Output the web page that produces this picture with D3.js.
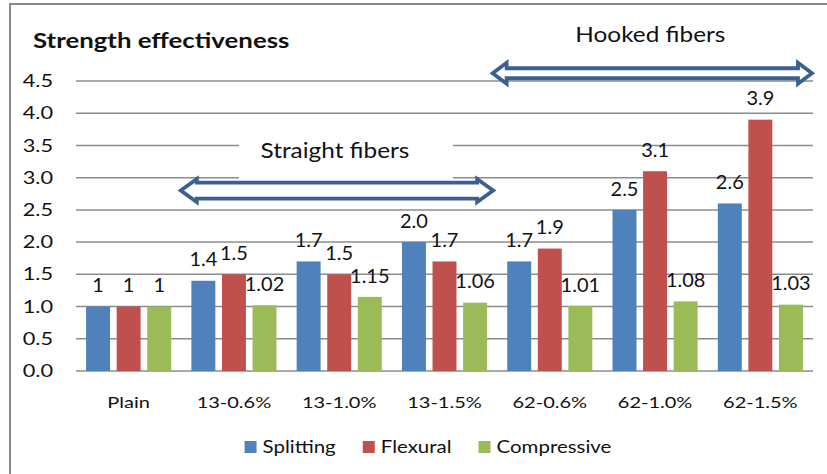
<!DOCTYPE html>
<html>
<head>
<meta charset="utf-8">
<script src="https://cdn.jsdelivr.net/npm/d3@7"></script>
<style>
  html, body { margin: 0; padding: 0; background: #fff; }
  svg { display: block; }
  text { font-family: Lato, "Open Sans", sans-serif; fill: #111; }
</style>
</head>
<body>
<svg id="chart" width="827" height="474"></svg>
<script>
// Mix designs (plain concrete, straight 13 mm and hooked 62 mm fibres at three dosages)
const categories = ["Plain", "13-0.6%", "13-1.0%", "13-1.5%", "62-0.6%", "62-1.0%", "62-1.5%"];
const seriesNames = ["Splitting", "Flexural", "Compressive"];
const seriesColors = ["#4f81bd", "#c0504d", "#9bbb59"];

// Strength ratio relative to the plain mix
const splitting   = [1, 1.4, 1.7, 2.0, 1.7, 2.5, 2.6];
const flexural    = [1, 1.5, 1.5, 1.7, 1.9, 3.1, 3.9];
const compressive = [1, 1.02, 1.15, 1.06, 1.01, 1.08, 1.03];
const labelDigits = [1, 1, 2];

const yTicks = [0, 0.5, 1.0, 1.5, 2.0, 2.5, 3.0, 3.5, 4.0, 4.5];

// Fibre-type brackets drawn over the groups
const brackets = [
  { label: "Straight fibers", from: 1, to: 3, level: 2.8, textLevel: 3.43 },
  { label: "Hooked fibers",   from: 4, to: 6, level: 4.62, textLevel: 5.23 }
];

const series = [splitting, flexural, compressive];

const svg = d3.select("#chart");
const W = 827, H = 474;
const plot = { left: 76, right: 813, top: 81, bottom: 371 };

// Horizontal text stretch per text role
function place(sel, x, y, sx) {
  return sel.attr("transform", `translate(${x},${y}) scale(${sx},1)`);
}

// Outer frame (only the top and left edges fall inside the picture)
svg.append("path")
  .attr("d", `M10,${H} L10,4 L${W},4`)
  .attr("fill", "none").attr("stroke", "#8a8a8a").attr("stroke-width", 2);

const x0 = d3.scaleBand().domain(categories).range([plot.left, plot.right]).paddingInner(0).paddingOuter(0);
const x1 = d3.scaleBand().domain(seriesNames).range([0, x0.bandwidth()]).paddingInner(0.216).paddingOuter(0.33);
const y = d3.scaleLinear().domain([0, 4.5]).range([plot.bottom, plot.top]);

// Gridlines
svg.append("g").selectAll("line").data(yTicks).join("line")
  .attr("x1", plot.left).attr("x2", plot.right)
  .attr("y1", d => y(d)).attr("y2", d => y(d))
  .attr("stroke", "#8c8c8c").attr("stroke-width", 1.5);

// Y tick labels
const fmtTick = d3.format(".1f");
svg.append("g").selectAll("text").data(yTicks).join("text")
  .each(function(d) { place(d3.select(this), 53, y(d), 1.28); })
  .attr("text-anchor", "end").attr("dy", "0.36em")
  .style("font-size", "17px")
  .text(d => fmtTick(d));

// Title
place(svg.append("text"), 33, 48, 1.2)
  .style("font-size", "21.5px").style("font-weight", "bold")
  .text("Strength effectiveness");

// Brackets with their captions
function arrowPath(L, R, cy, hl, hh, sh) {
  return `M${L},${cy} L${L + hl},${cy - hh} L${L + hl},${cy - sh} L${R - hl},${cy - sh} L${R - hl},${cy - hh}` +
         ` L${R},${cy} L${R - hl},${cy + hh} L${R - hl},${cy + sh} L${L + hl},${cy + sh} L${L + hl},${cy + hh} Z`;
}
brackets.forEach((b, i) => {
  const L = x0(categories[b.from]) - (i === 0 ? 2 : 6);
  const R = x0(categories[b.to]) + x0.bandwidth() - (i === 0 ? 2.5 : -0.5);
  const cy = y(b.level);
  const cx = (L + R) / 2;
  const ty = y(b.textLevel);
  if (i === 0) {
    // caption box masks the gridlines behind it
    svg.append("rect").attr("x", cx - 98).attr("y", ty - 25).attr("width", 214).attr("height", 57).attr("fill", "#fff");
  }
  place(svg.append("text"), cx - 2, ty, 1.16)
    .attr("text-anchor", "middle").attr("dy", "0.36em")
    .style("font-size", "21px")
    .text(b.label);
  const hh = i === 0 ? 11.5 : 10.5;
  const sh = i === 0 ? 8 : 5;
  const hl = i === 0 ? 16 : 14;
  svg.append("path")
    .attr("d", arrowPath(L + 1.5, R - 1.5, cy, hl, hh, sh))
    .attr("fill", "#fff").attr("stroke", "#3a6090").attr("stroke-width", 3.8)
    .attr("stroke-linejoin", "miter");
});

// Bars
const groups = svg.append("g").selectAll("g").data(categories).join("g")
  .attr("transform", d => `translate(${x0(d)},0)`);

groups.selectAll("rect")
  .data((c, ci) => seriesNames.map((s, si) => ({ s, si, ci, v: series[si][ci] })))
  .join("rect")
  .attr("x", d => x1(d.s)).attr("width", x1.bandwidth())
  .attr("y", d => y(d.v)).attr("height", d => y(0) - y(d.v))
  .attr("fill", d => seriesColors[d.si]);

// Value labels
function fmtValue(d) {
  return d.ci === 0 ? d3.format("d")(d.v) : d.v.toFixed(labelDigits[d.si]);
}
groups.selectAll("text")
  .data((c, ci) => seriesNames.map((s, si) => ({ s, si, ci, v: series[si][ci] })))
  .join("text")
  .each(function(d) { place(d3.select(this), x1(d.s) + x1.bandwidth() / 2, y(d.v) - 21, 1.08); })
  .attr("text-anchor", "middle").attr("dy", "0.36em")
  .style("font-size", "18.5px")
  .text(fmtValue);

// Category labels
svg.append("g").selectAll("text").data(categories).join("text")
  .each(function(d) { place(d3.select(this), x0(d) + x0.bandwidth() / 2, 402, 1.25); })
  .attr("text-anchor", "middle").attr("dy", "0.36em")
  .style("font-size", "16px")
  .text(d => d);

// Legend
const legend = svg.append("g");
const legendSX = 1.17;
let lx = 0;
seriesNames.forEach((name, i) => {
  const g = legend.append("g");
  g.append("rect").attr("x", 0).attr("y", -6).attr("width", 12).attr("height", 12).attr("fill", seriesColors[i]);
  const t = place(g.append("text"), 18, 0, legendSX)
    .attr("dy", "0.36em").style("font-size", "17.5px").text(name);
  const w = 18 + t.node().getComputedTextLength() * legendSX;
  g.attr("transform", `translate(${lx},0)`);
  lx += w + 27;
});
const legendWidth = lx - 27;
legend.attr("transform", `translate(${428 - legendWidth / 2},447)`);
</script>
</body>
</html>
